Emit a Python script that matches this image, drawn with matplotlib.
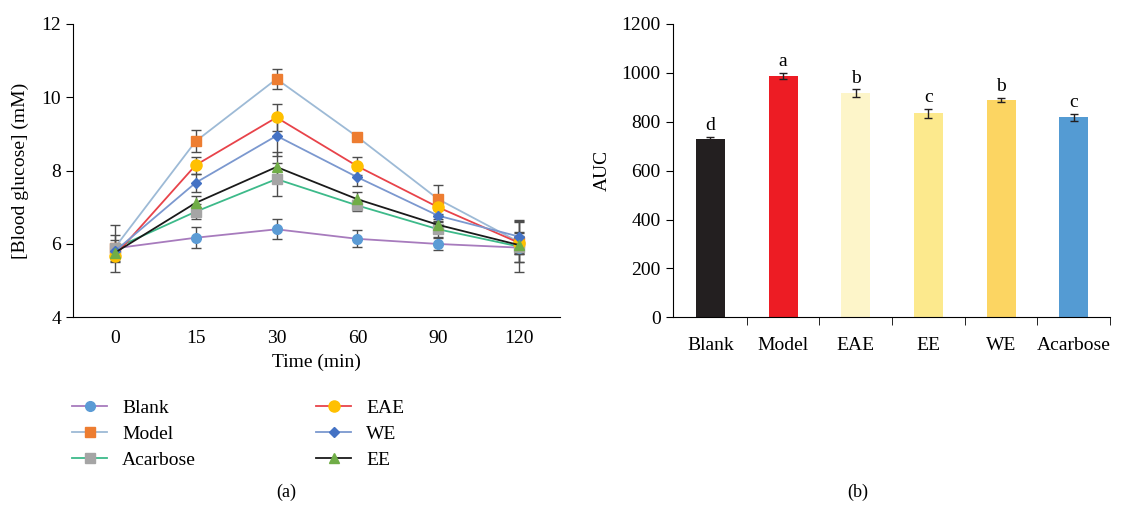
import numpy as np
import matplotlib
matplotlib.use("Agg")
import matplotlib.pyplot as plt
from matplotlib.ticker import FixedLocator

plt.rcParams["font.family"] = ["Liberation Serif", "DejaVu Serif"]

# ── (a) blood glucose time course ──────────────────────────────────────
times = ["0", "15", "30", "60", "90", "120"]

blank     = [5.88, 6.17, 6.40, 6.14, 6.00, 5.90]
model     = [5.90, 8.80, 10.50, 8.92, 7.22, 6.05]
acarbose  = [5.88, 6.88, 7.77, 7.05, 6.40, 5.93]
eae       = [5.68, 8.15, 9.45, 8.12, 7.00, 6.03]
we        = [5.80, 7.67, 8.95, 7.82, 6.77, 6.20]
ee        = [5.76, 7.12, 8.10, 7.22, 6.52, 5.97]

blank_err    = [0.65, 0.29, 0.27, 0.23, 0.16, 0.40]
model_err    = [0.20, 0.30, 0.27, 0.10, 0.40, 0.55]
acarbose_err = [0.36, 0.20, 0.45, 0.15, 0.20, 0.70]
eae_err      = [0.15, 0.23, 0.38, 0.25, 0.25, 0.30]
we_err       = [0.20, 0.25, 0.55, 0.25, 0.15, 0.45]
ee_err       = [0.15, 0.20, 0.40, 0.20, 0.15, 0.25]

# ── (b) AUC ────────────────────────────────────────────────────────────
groups  = ["Blank", "Model", "EAE", "EE", "WE", "Acarbose"]
auc     = [728, 987, 917, 835, 889, 818]
auc_err = [10, 12, 15, 18, 10, 14]
letters = ["d", "a", "b", "c", "b", "c"]
bar_colors = ["#231f20", "#ed1c24", "#fdf5c9", "#fce98d", "#fcd562", "#549bd3"]

fig = plt.figure(figsize=(11.42, 5.08), dpi=100)
ax1 = fig.add_axes([0.0637, 0.3754, 0.4263, 0.5774])
ax2 = fig.add_axes([0.589, 0.3754, 0.383, 0.5774])

x = np.arange(len(times))
series = [
    ("Blank",    blank,    blank_err,    "#a77bbd", "#5b9bd5", "o", 7),
    ("Model",    model,    model_err,    "#9dbad6", "#ed7d31", "s", 7),
    ("Acarbose", acarbose, acarbose_err, "#3dba8a", "#a5a5a5", "s", 7),
    ("EAE",      eae,      eae_err,      "#e8434a", "#ffc000", "o", 8),
    ("WE",       we,       we_err,       "#7b98cf", "#4472c4", "D", 5),
    ("EE",       ee,       ee_err,       "#1a1a1a", "#70ad47", "^", 7),
]

handles = []
for name, vals, err, lc, mc, mk, ms in series:
    ax1.errorbar(x, vals, yerr=err, fmt="none", ecolor="#4d4d4d",
                 elinewidth=1.0, capsize=3.5, capthick=1.0, zorder=2)
    h, = ax1.plot(x, vals, color=lc, lw=1.3, marker=mk, markersize=ms,
                  markerfacecolor=mc, markeredgecolor=mc, label=name, zorder=3)
    handles.append(h)

ax1.set_xlim(-0.52, 5.5)
ax1.set_ylim(4, 12)
ax1.set_xticks(x)
ax1.set_xticklabels(times)
ax1.set_yticks([4, 6, 8, 10, 12])
ax1.tick_params(axis="x", length=0, labelsize=14, pad=9)
ax1.tick_params(axis="y", length=5, labelsize=14, direction="out")
ax1.spines["top"].set_visible(False)
ax1.spines["right"].set_visible(False)
ax1.set_xlabel("Time (min)", fontsize=14, labelpad=5)
ax1.set_ylabel("[Blood glucose] (mM)", fontsize=14, labelpad=9)

fig.legend(handles=handles, loc="upper left", bbox_to_anchor=(0.048, 0.248),
           ncol=2, frameon=False, fontsize=14, handlelength=1.8,
           handletextpad=0.75, columnspacing=6.2, labelspacing=0.42)

xb = np.arange(len(groups))
ax2.bar(xb, auc, width=0.4, color=bar_colors, zorder=2)
ax2.errorbar(xb, auc, yerr=auc_err, fmt="none", ecolor="#231f20",
             elinewidth=1.0, capsize=3, capthick=1.0, zorder=3)
for xi, v, e, t in zip(xb, auc, auc_err, letters):
    ax2.text(xi, v + e + 12, t, ha="center", va="bottom", fontsize=14)

ax2.set_xlim(-0.52, 5.5)
ax2.set_ylim(0, 1200)
ax2.set_yticks(np.arange(0, 1201, 200))
ax2.set_xticks(xb)
ax2.set_xticklabels(groups)
ax2.xaxis.set_minor_locator(FixedLocator(list(xb + 0.5)))
ax2.tick_params(axis="x", which="major", length=0, labelsize=14, pad=14)
ax2.tick_params(axis="x", which="minor", length=6, direction="out")
ax2.tick_params(axis="y", length=5, labelsize=14, direction="out")
ax2.spines["top"].set_visible(False)
ax2.spines["right"].set_visible(False)
ax2.set_ylabel("AUC", fontsize=14, labelpad=8)

fig.text(0.251, 0.031, "(a)", ha="center", va="center", fontsize=13)
fig.text(0.751, 0.031, "(b)", ha="center", va="center", fontsize=13)

fig.savefig("out.png", dpi=100)
